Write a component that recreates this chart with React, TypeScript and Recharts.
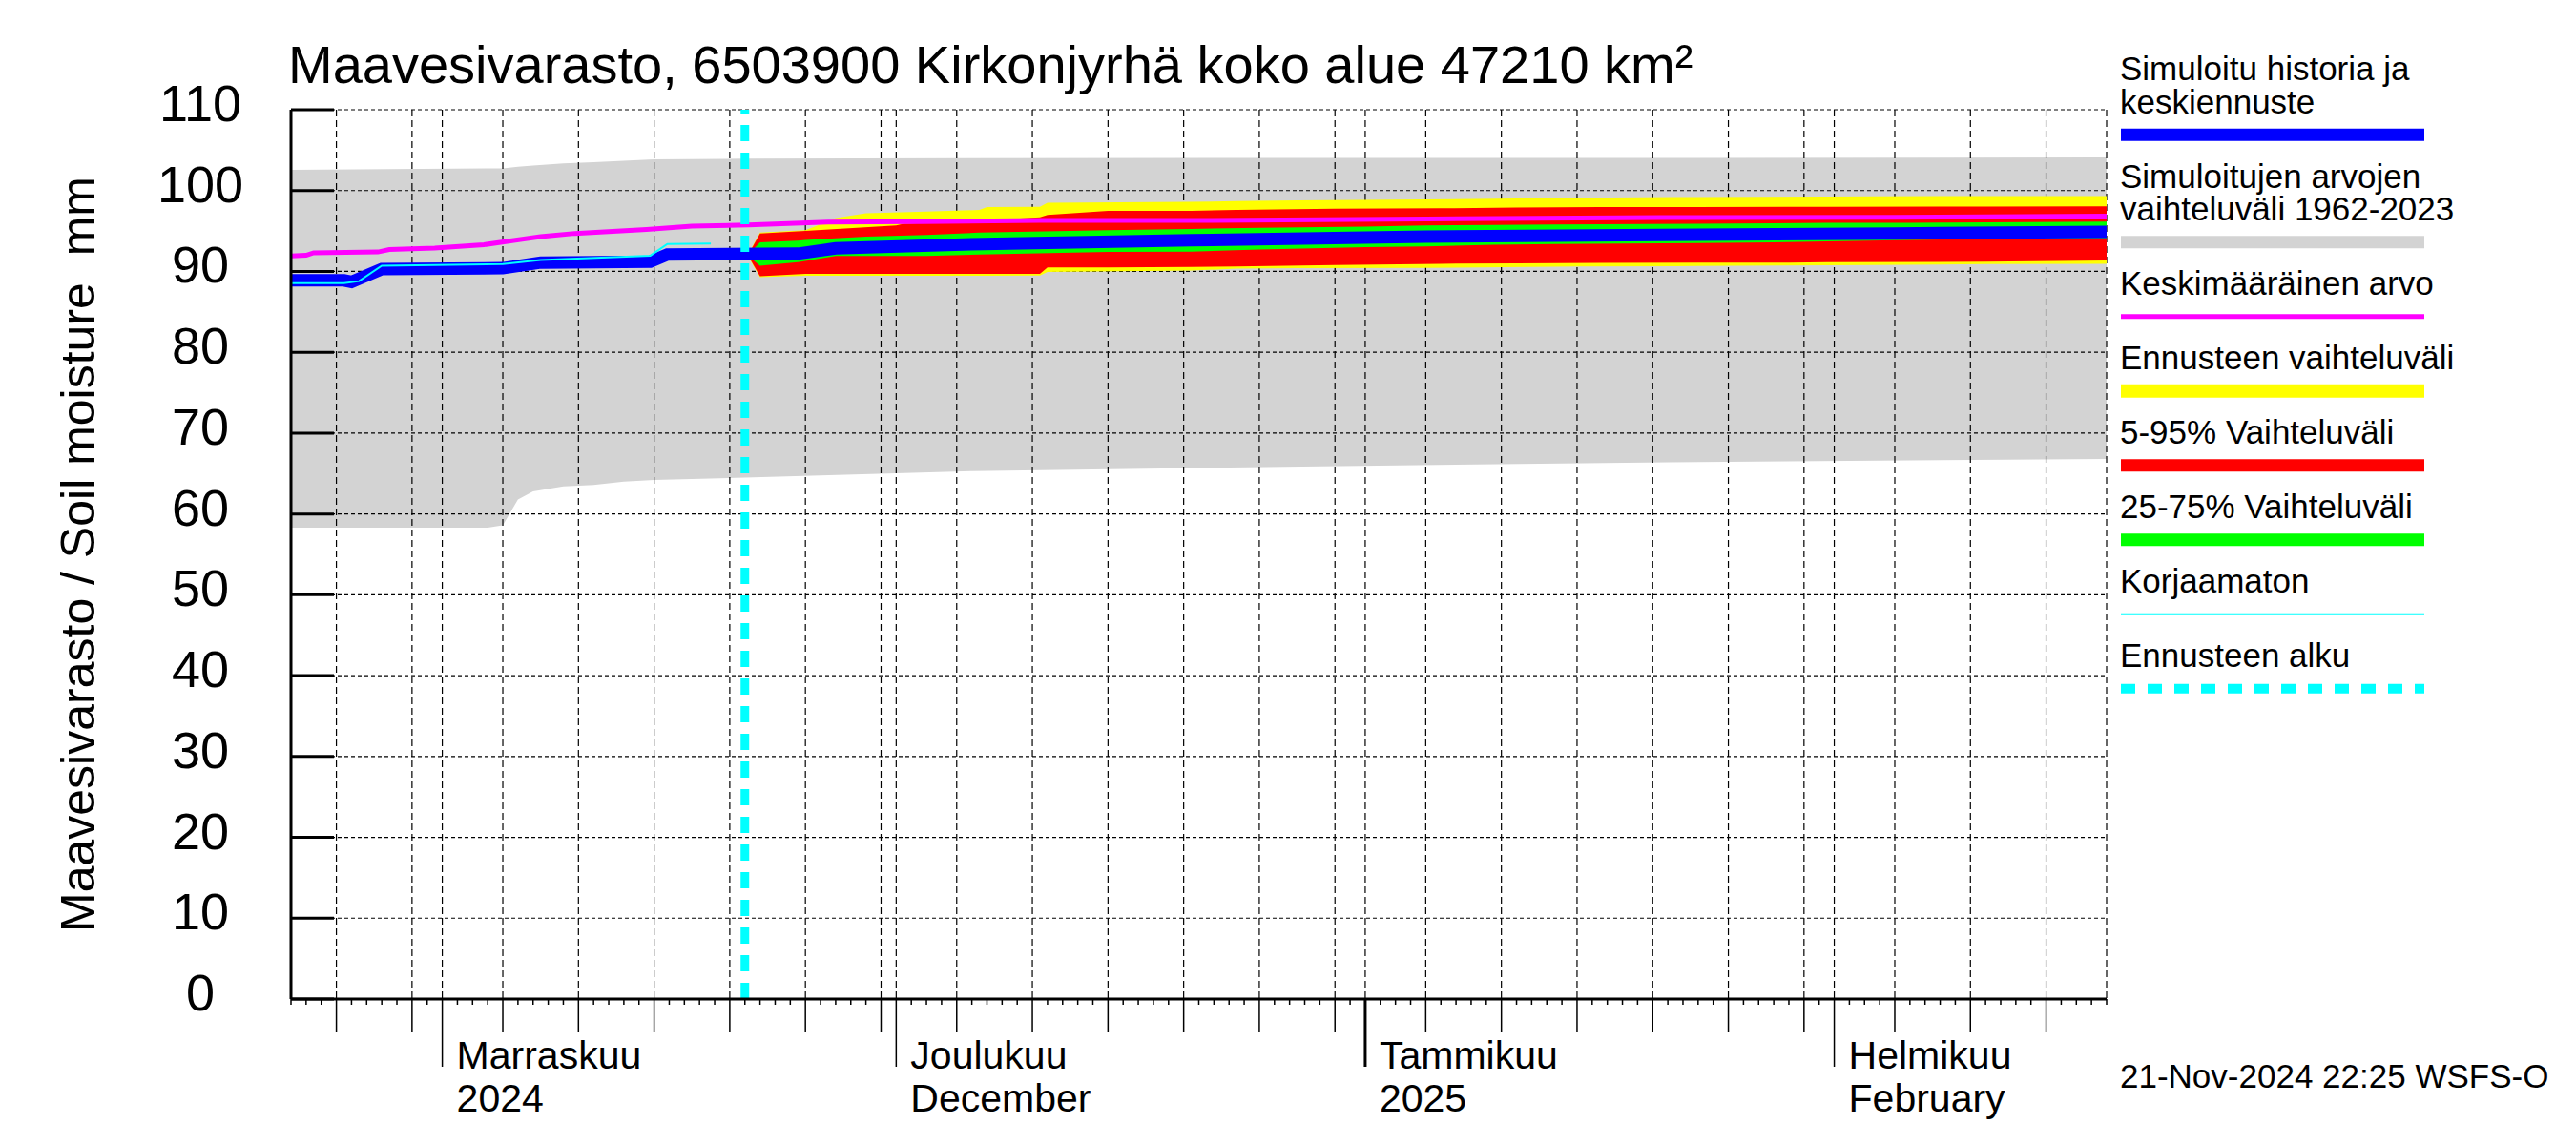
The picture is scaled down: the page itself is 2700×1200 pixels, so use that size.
import React from "react";
import { ComposedChart, Area, Line, XAxis, YAxis, CartesianGrid, ReferenceLine } from "recharts";

// ---- time axis: day 0 = 22 Oct 2024, day 120 = 19 Feb 2025 ----
const START_UTC = Date.UTC(2024, 9, 22);
const END_DAY = 120;
const dayIndex = (s: string) =>
  (Date.parse(s.length > 10 ? s + ":00Z" : s + "T00:00:00Z") - START_UTC) / 86400000;

const FORECAST_START = "2024-11-21";

// ---- tick labels ----
const yTicks = [0, 10, 20, 30, 40, 50, 60, 70, 80, 90, 100, 110];
const monthStarts = ["2024-11-01", "2024-12-01", "2025-01-01", "2025-02-01"];
const monthNames = ["Marraskuu", "Joulukuu", "Tammikuu", "Helmikuu"];
const monthSub = ["2024", "December", "2025", "February"];

// ---- series: [time, low, high] ----
const greyBand: [string, number, number][] = [
  ["2024-10-22", 58.3, 102.55],
  ["2024-11-04", 58.3, 102.75],
  ["2024-11-05", 58.6, 102.75],
  ["2024-11-06", 61.8, 102.95],
  ["2024-11-07", 62.8, 103.1],
  ["2024-11-09", 63.4, 103.35],
  ["2024-11-11", 63.6, 103.5],
  ["2024-11-13", 64.0, 103.7],
  ["2024-11-15", 64.2, 103.85],
  ["2024-11-21", 64.5, 103.95],
  ["2024-12-06", 65.3, 104.0],
  ["2024-12-29", 65.9, 104.05],
  ["2025-01-21", 66.4, 104.05],
  ["2025-02-19", 66.8, 104.1],
];

const yellowBand: [string, number, number][] = [
  ["2024-11-21T07", 91.6, 92.4],
  ["2024-11-22", 89.3, 94.8],
  ["2024-11-25", 89.45, 95.1],
  ["2024-11-26T12", 89.45, 96.2],
  ["2024-11-27", 89.45, 96.6],
  ["2024-11-29", 89.45, 97.2],
  ["2024-12-03", 89.45, 97.4],
  ["2024-12-06T12", 89.45, 97.6],
  ["2024-12-07", 89.45, 97.95],
  ["2024-12-10T12", 89.5, 98.0],
  ["2024-12-11", 89.95, 98.5],
  ["2024-12-20T12", 90.1, 98.6],
  ["2024-12-23T12", 90.35, 98.7],
  ["2024-12-27T12", 90.4, 98.8],
  ["2025-01-05", 90.45, 98.9],
  ["2025-01-15", 90.6, 99.1],
  ["2025-01-21T12", 90.65, 99.2],
  ["2025-01-31T12", 90.75, 99.25],
  ["2025-02-03T12", 90.8, 99.3],
  ["2025-02-11", 90.9, 99.33],
  ["2025-02-19", 90.95, 99.33],
];

const redBand: [string, number, number][] = [
  ["2024-11-21T07", 91.7, 92.3],
  ["2024-11-22", 89.4, 94.7],
  ["2024-11-25", 89.7, 95.0],
  ["2024-12-01", 89.7, 95.7],
  ["2024-12-01T12", 89.7, 95.9],
  ["2024-12-06", 89.7, 96.2],
  ["2024-12-10T12", 89.7, 96.7],
  ["2024-12-11", 90.5, 97.0],
  ["2024-12-15", 90.5, 97.5],
  ["2024-12-20T12", 90.55, 97.5],
  ["2024-12-23T12", 90.6, 97.6],
  ["2024-12-30", 90.8, 97.75],
  ["2025-01-06", 90.95, 97.8],
  ["2025-01-11", 91.0, 97.9],
  ["2025-01-16T12", 91.05, 97.95],
  ["2025-01-29", 91.1, 98.0],
  ["2025-01-31T12", 91.15, 98.0],
  ["2025-02-11", 91.2, 98.03],
  ["2025-02-19", 91.35, 98.05],
];

const greenBand: [string, number, number][] = [
  ["2024-11-21T07", 91.8, 92.2],
  ["2024-11-22", 90.7, 93.6],
  ["2024-11-24T12", 91.15, 93.8],
  ["2024-11-25", 91.3, 93.9],
  ["2024-11-27", 91.9, 94.1],
  ["2024-11-29", 91.9, 94.3],
  ["2024-12-03", 91.9, 94.5],
  ["2024-12-06T12", 92.1, 94.8],
  ["2024-12-15", 92.4, 95.1],
  ["2024-12-20T12", 92.45, 95.25],
  ["2024-12-25", 92.7, 95.4],
  ["2025-01-01", 93.0, 95.55],
  ["2025-01-05", 93.1, 95.7],
  ["2025-01-09T12", 93.3, 95.75],
  ["2025-01-13T12", 93.4, 95.8],
  ["2025-01-23", 93.5, 95.9],
  ["2025-01-28", 93.6, 95.95],
  ["2025-01-31T12", 93.7, 96.0],
  ["2025-02-06", 93.9, 96.0],
  ["2025-02-08T12", 93.95, 96.05],
  ["2025-02-19", 94.1, 96.15],
];

// ---- series: [time, value] ----
const meanLine: [string, number][] = [
  ["2024-10-22", 91.9],
  ["2024-10-23", 92.0],
  ["2024-10-23T12", 92.3],
  ["2024-10-27T18", 92.4],
  ["2024-10-28T12", 92.7],
  ["2024-10-31T12", 92.9],
  ["2024-11-03T18", 93.3],
  ["2024-11-07T12", 94.3],
  ["2024-11-09T18", 94.7],
  ["2024-11-14T12", 95.2],
  ["2024-11-17T12", 95.6],
  ["2024-11-21T06", 95.75],
  ["2024-11-26T12", 96.1],
  ["2024-12-02T18", 96.15],
  ["2024-12-10T12", 96.3],
  ["2024-12-20T18", 96.3],
  ["2025-01-05", 96.5],
  ["2025-01-20T12", 96.65],
  ["2025-02-05", 96.7],
  ["2025-02-19", 96.85],
];

const simulatedLine: [string, number][] = [
  ["2024-10-22", 88.9],
  ["2024-10-25T12", 88.9],
  ["2024-10-26", 88.7],
  ["2024-10-28", 90.3],
  ["2024-11-05", 90.4],
  ["2024-11-07T12", 91.1],
  ["2024-11-14T18", 91.2],
  ["2024-11-15T21", 92.1],
  ["2024-11-24T12", 92.2],
  ["2024-11-27", 92.85],
  ["2024-12-06T18", 93.4],
  ["2024-12-20T12", 93.85],
  ["2025-01-05", 94.3],
  ["2025-01-20T12", 94.5],
  ["2025-02-05", 94.7],
  ["2025-02-19", 94.9],
];

const uncorrectedLine: [string, number][] = [
  ["2024-10-22", 88.55],
  ["2024-10-25T12", 88.55],
  ["2024-10-26T12", 88.8],
  ["2024-10-28", 90.7],
  ["2024-11-05", 90.9],
  ["2024-11-07T12", 91.4],
  ["2024-11-14T18", 91.95],
  ["2024-11-15T21", 93.4],
  ["2024-11-18T18", 93.45],
];

const toRange = (rows: [string, number, number][]) =>
  rows.map(([t, lo, hi]) => ({ d: dayIndex(t), r: [lo, hi] }));
const toLine = (rows: [string, number][]) => rows.map(([t, v]) => ({ d: dayIndex(t), v }));

const greyData = toRange(greyBand);
const yellowData = toRange(yellowBand);
const redData = toRange(redBand);
const greenData = toRange(greenBand);
const meanData = toLine(meanLine);
const simData = toLine(simulatedLine);
const uncData = toLine(uncorrectedLine);

const dayTicks: number[] = [];
const gridDays: number[] = [];
for (let d = 0; d <= END_DAY; d++) {
  dayTicks.push(d);
  const dom = new Date(START_UTC + d * 86400000).getUTCDate();
  if (d > 0 && (dom === 1 || dom % 5 === 0)) gridDays.push(d);
}
if (!gridDays.includes(END_DAY)) gridDays.push(END_DAY);
const monthStartDays = monthStarts.map(dayIndex);

const FONT = "'Liberation Sans', Arial, Helvetica, sans-serif";

const renderYTick = (p: any) => {
  const x0 = 305;
  return (
    <g>
      <line x1={x0} x2={x0 + 45} y1={p.y} y2={p.y} stroke="#000" strokeWidth={3} />
      <text x={x0 - 95} y={p.y + 12} textAnchor="middle" fontSize={54} fontFamily={FONT} fill="#000">
        {p.payload.value}
      </text>
    </g>
  );
};

const renderXTick = (p: any) => {
  const day = p.payload.value;
  const y0 = 1047;
  const date = new Date(START_UTC + Math.round(day) * 86400000);
  const dom = date.getUTCDate();
  const isMonth = dom === 1;
  const len = isMonth ? 71 : dom % 5 === 0 ? 35 : 6;
  const sw = isMonth && date.getUTCMonth() === 0 ? 3 : 1.5;
  const mi = monthStartDays.indexOf(day);
  return (
    <g>
      <line x1={p.x} x2={p.x} y1={y0} y2={y0 + len} stroke="#000" strokeWidth={sw} />
      {mi >= 0 && (
        <text x={p.x + 15} y={y0 + 73} fontSize={41} fontFamily={FONT} fill="#000" textAnchor="start">
          {monthNames[mi]}
        </text>
      )}
      {mi >= 0 && (
        <text x={p.x + 15} y={y0 + 118} fontSize={41} fontFamily={FONT} fill="#000" textAnchor="start">
          {monthSub[mi]}
        </text>
      )}
    </g>
  );
};

const legendItems = [
  { lines: ["Simuloitu historia ja", "keskiennuste"], color: "#0000ff", w: 13 },
  { lines: ["Simuloitujen arvojen", "vaihteluväli 1962-2023"], color: "#d3d3d3", w: 13 },
  { lines: ["Keskimääräinen arvo"], color: "#ff00ff", w: 5 },
  { lines: ["Ennusteen vaihteluväli"], color: "#ffff00", w: 14 },
  { lines: ["5-95% Vaihteluväli"], color: "#ff0000", w: 13 },
  { lines: ["25-75% Vaihteluväli"], color: "#00ff00", w: 13 },
  { lines: ["Korjaamaton"], color: "#00ffff", w: 2 },
  { lines: ["Ennusteen alku"], color: "#00ffff", w: 10, dash: "15 13" },
];

function Legend() {
  let y = 84;
  const out: React.ReactNode[] = [];
  legendItems.forEach((it, i) => {
    it.lines.forEach((ln, j) => {
      out.push(
        <text key={`t${i}-${j}`} x={2222} y={y} fontSize={35} fontFamily={FONT} fill="#000">
          {ln}
        </text>
      );
      if (j < it.lines.length - 1) y += 34.5;
    });
    const by = y + 22.7;
    out.push(
      <line
        key={`l${i}`}
        x1={2223}
        x2={2541}
        y1={by}
        y2={by}
        stroke={it.color}
        strokeWidth={it.w}
        strokeDasharray={it.dash}
      />
    );
    y = by + 55.3;
  });
  return <g>{out}</g>;
}

export default function App() {
  return (
    <div style={{ position: "absolute", left: 0, top: 0, width: 2700, height: 1200, background: "#fff" }}>
      <ComposedChart
        width={2700}
        height={1200}
        margin={{ top: 115, right: 492, bottom: 143, left: 295 }}
      >
        <XAxis
          type="number"
          dataKey="d"
          domain={[0, END_DAY]}
          ticks={dayTicks}
          interval={0}
          tickSize={0}
          tickMargin={0}
          tickLine={false}
          height={10}
          allowDataOverflow
          axisLine={{ stroke: "#000", strokeWidth: 3 }}
          tick={renderXTick}
        />
        <YAxis
          type="number"
          domain={[0, 110]}
          ticks={yTicks}
          interval={0}
          width={10}
          tickSize={0}
          tickMargin={0}
          tickLine={false}
          allowDataOverflow
          axisLine={{ stroke: "#000", strokeWidth: 3 }}
          tick={renderYTick}
        />
        <Area
          data={greyData}
          dataKey="r"
          type="linear"
          stroke="none"
          fill="#d3d3d3"
          fillOpacity={1}
          dot={false}
          activeDot={false}
          isAnimationActive={false}
          zIndex={-150}
        />
        <CartesianGrid
          horizontal
          vertical={false}
          horizontalValues={yTicks.filter((v) => v > 0)}
          stroke="#000"
          strokeWidth={1.2}
          strokeDasharray="4 3"
        />
        <CartesianGrid
          horizontal={false}
          vertical
          verticalValues={gridDays}
          stroke="#000"
          strokeWidth={1.2}
          strokeDasharray="7 4"
        />
        <Area data={yellowData} dataKey="r" type="linear" stroke="none" fill="#ffff00" fillOpacity={1} dot={false} activeDot={false} isAnimationActive={false} />
        <Area data={redData} dataKey="r" type="linear" stroke="none" fill="#ff0000" fillOpacity={1} dot={false} activeDot={false} isAnimationActive={false} />
        <Area data={greenData} dataKey="r" type="linear" stroke="none" fill="#00ff00" fillOpacity={1} dot={false} activeDot={false} isAnimationActive={false} />
        <Line data={meanData} dataKey="v" type="linear" stroke="#ff00ff" strokeWidth={5} dot={false} activeDot={false} isAnimationActive={false} />
        <Line data={simData} dataKey="v" type="linear" stroke="#0000ff" strokeWidth={13} dot={false} activeDot={false} isAnimationActive={false} />
        <Line data={uncData} dataKey="v" type="linear" stroke="#00ffff" strokeWidth={2} dot={false} activeDot={false} isAnimationActive={false} />
        <ReferenceLine
          x={dayIndex(FORECAST_START)}
          stroke="#00ffff"
          strokeWidth={9}
          strokeDasharray="17 12"
          zIndex={450}
        />
      </ComposedChart>
      <svg
        width={2700}
        height={1200}
        style={{ position: "absolute", left: 0, top: 0, pointerEvents: "none" }}
        fontFamily={FONT}
      >
        <text x={302} y={87} fontSize={56} fill="#000">
          Maavesivarasto, 6503900 Kirkonjyrhä koko alue 47210 km²
        </text>
        <text
          x={99}
          y={581}
          fontSize={50}
          fill="#000"
          textAnchor="middle"
          transform="rotate(-90 99 581)"
          style={{ whiteSpace: "pre" }}
        >
          {"Maavesivarasto / Soil moisture  mm"}
        </text>
        <Legend />
        <text x={2222} y={1140} fontSize={35} fill="#000">
          21-Nov-2024 22:25 WSFS-O
        </text>
      </svg>
    </div>
  );
}
